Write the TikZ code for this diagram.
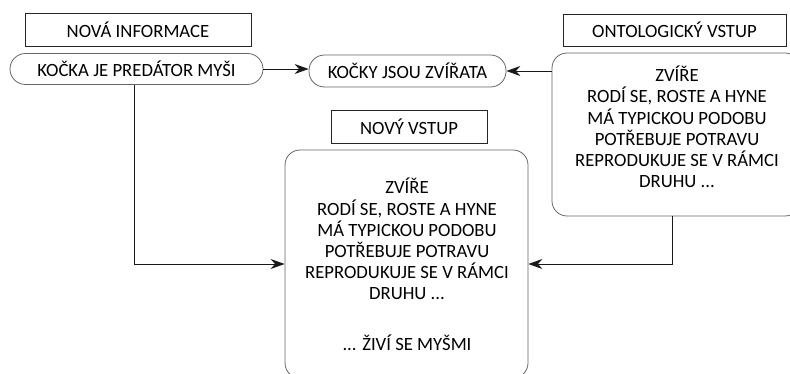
\documentclass[tikz,border=0pt]{standalone}
\usepackage{fontspec}
\setmainfont{Carlito}
\usetikzlibrary{arrows.meta}
\begin{document}
\begin{tikzpicture}[x=1pt,y=-1pt,
  title/.style={draw=black!85, line width=0.8pt, inner sep=0pt, font=\fontsize{18.7}{19.7}\selectfont},
  pill/.style={draw=black!60, line width=0.8pt, rounded corners=15.5pt, inner sep=0pt, font=\fontsize{18.7}{19.7}\selectfont},
  card/.style={draw=black!60, line width=0.8pt, rounded corners=15pt, inner sep=0pt},
  body/.style={align=center, inner sep=0pt, font=\fontsize{18.7}{21.2}\selectfont},
  conn/.style={draw=black!90, line width=0.8pt, -{Stealth[length=14pt,width=10pt,inset=4.5pt]}}
]
\useasboundingbox (0,0) rectangle (790,374);
\clip (0,0) rectangle (790,374);

% titles
\node[title, minimum width=226pt, minimum height=33pt] (ni) at (138,29.5) {NOVÁ INFORMACE};
\node[title, minimum width=223pt, minimum height=32pt] (oi) at (674.5,30) {ONTOLOGICKÝ VSTUP};
\node[title, minimum width=156pt, minimum height=33pt] (nv) at (409,126.5) {NOVÝ VSTUP};

% pills
\node[pill, minimum width=253pt, minimum height=31pt] (kp) at (136.5,69) {KOČKA JE PREDÁTOR MYŠI};
\node[pill, minimum width=197pt, minimum height=32pt] (kz) at (407.5,71) {KOČKY JSOU ZVÍŘATA};

% cards
\node[card, minimum width=248pt, minimum height=163pt] (ont) at (676,134.5) {};
\node[card, minimum width=243pt, minimum height=228pt] (big) at (406.5,264) {};

\node[body] (onttxt) at (677,127) {ZVÍŘE\\RODÍ SE, ROSTE A HYNE\\MÁ TYPICKOU PODOBU\\POTŘEBUJE POTRAVU\\REPRODUKUJE SE V RÁMCI\\DRUHU ...};
\node[body, anchor=north] (bigtxt) at (407,178) {ZVÍŘE\\RODÍ SE, ROSTE A HYNE\\MÁ TYPICKOU PODOBU\\POTŘEBUJE POTRAVU\\REPRODUKUJE SE V RÁMCI\\DRUHU ...\\[29pt]... ŽIVÍ SE MYŠMI};

% connectors
\coordinate (kpdown) at (134,85);
\coordinate (ontdown) at (672,216);
\draw[conn] (kp.east) -- (kp.east -| kz.west);
\draw[conn] (kz.east -| ont.west) -- (kz.east);
\draw[conn] (kpdown) |- (big.west);
\draw[conn] (ontdown) |- (big.east);
\end{tikzpicture}
\end{document}
